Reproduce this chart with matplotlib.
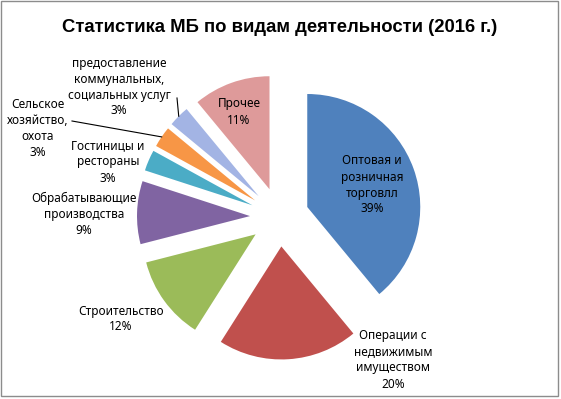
import numpy as np
import matplotlib.pyplot as plt
from matplotlib.patches import Rectangle

# данные диаграммы
categories = ['Оптовая и\nрозничная\nторговлл', 'Операции с\nнедвижимым\nимуществом',
              'Строительство', 'Обрабатывающие\nпроизводства', 'Гостиницы и\nрестораны',
              'Сельское\nхозяйство,\nохота', 'предоставление\nкоммунальных,\nсоциальных услуг',
              'Прочее']
shares = [39, 20, 12, 9, 3, 3, 3, 11]
colors = ['#4F81BD', '#C0504D', '#9BBB59', '#8064A2', '#4BACC6', '#F79646', '#A3B4E4', '#DE9A9A']
title = 'Статистика МБ по видам деятельности (2016 г.)'

# раскладка в пикселях (y сверху вниз)
W, H = 561, 399
pie_center = (279.5, 217)
pie_radius = 113
pie_explode = 29.5
label_xy = [(372, 185), (393, 360), (121, 319), (84, 214), (108, 162), (38, 128), (119, 87), (239, 112)]
leader_from = {5: (72, 121), 6: (177, 98)}

font = 'Noto Sans'


def main():
    fig = plt.figure(figsize=(W / 100, H / 100), dpi=100)
    ax = fig.add_axes([0, 0, 1, 1])
    wedges, _ = ax.pie(shares, colors=colors, startangle=90, counterclock=False,
                       explode=[pie_explode] * len(shares), radius=pie_radius,
                       center=(pie_center[0], H - pie_center[1]),
                       wedgeprops=dict(linewidth=0))
    ax.set_xlim(0, W)
    ax.set_ylim(0, H)
    ax.set_aspect('auto')
    ax.axis('off')

    for i, (name, val) in enumerate(zip(categories, shares)):
        x, y = label_xy[i]
        ax.text(x, H - y, f'{name}\n{val}%', ha='center', va='center',
                fontsize=8.5, family=font, linespacing=1.3, color='black')

    # выноски для мелких секторов
    for i, (x0, y0) in leader_from.items():
        w = wedges[i]
        th = np.deg2rad((w.theta1 + w.theta2) / 2)
        x1 = w.center[0] + w.r * np.cos(th)
        y1 = w.center[1] + w.r * np.sin(th)
        ax.plot([x0, x1], [H - y0, y1], color='black', lw=0.8)

    ax.text(280, H - 27, title, ha='center', va='center', fontsize=13.3,
            fontweight='bold', family=['Liberation Sans', 'DejaVu Sans'])

    ax.add_patch(Rectangle((0.5, 3), W - 3.5, H - 3.5, fill=False,
                           edgecolor='#8c8c8c', lw=1))
    fig.savefig('out.png', dpi=100)


if __name__ == '__main__':
    main()
